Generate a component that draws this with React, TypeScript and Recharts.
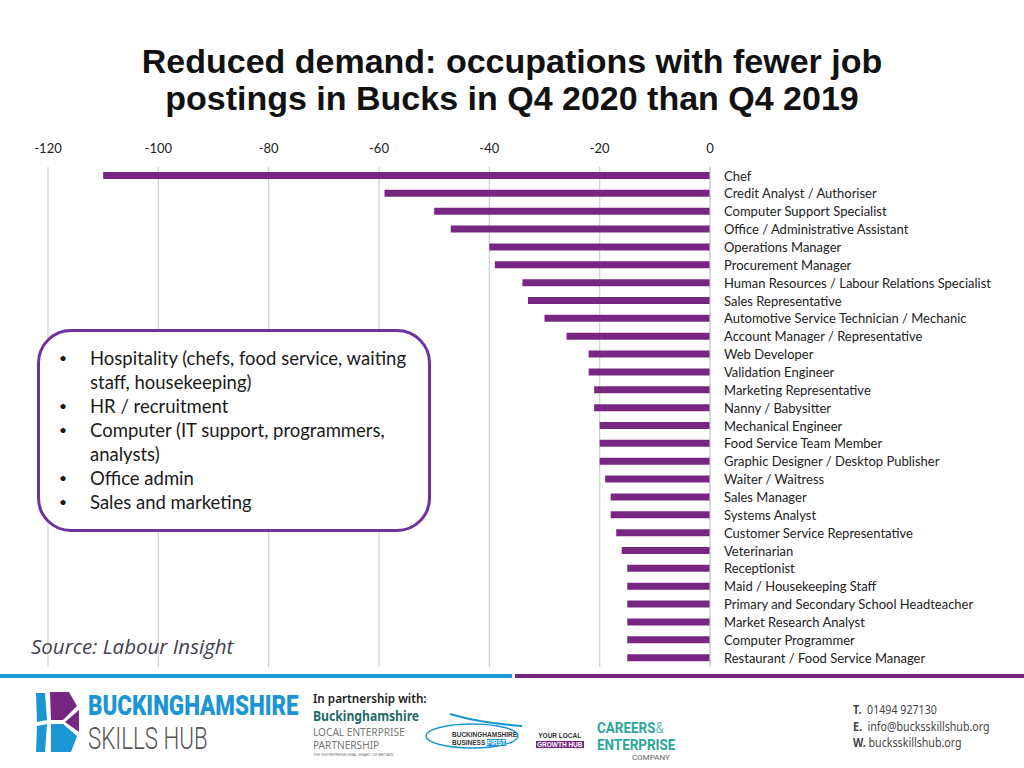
import React from "react";
import { BarChart, Bar, XAxis, YAxis, CartesianGrid } from "recharts";

const occupations = [
  "Chef",
  "Credit Analyst / Authoriser",
  "Computer Support Specialist",
  "Office / Administrative Assistant",
  "Operations Manager",
  "Procurement Manager",
  "Human Resources / Labour Relations Specialist",
  "Sales Representative",
  "Automotive Service Technician / Mechanic",
  "Account Manager / Representative",
  "Web Developer",
  "Validation Engineer",
  "Marketing Representative",
  "Nanny / Babysitter",
  "Mechanical Engineer",
  "Food Service Team Member",
  "Graphic Designer / Desktop Publisher",
  "Waiter / Waitress",
  "Sales Manager",
  "Systems Analyst",
  "Customer Service Representative",
  "Veterinarian",
  "Receptionist",
  "Maid / Housekeeping Staff",
  "Primary and Secondary School Headteacher",
  "Market Research Analyst",
  "Computer Programmer",
  "Restaurant / Food Service Manager",
];

const changeValues = [
  -110, -59, -50, -47, -40, -39, -34, -33, -30, -26, -22, -22, -21, -21, -20,
  -20, -20, -19, -18, -18, -17, -16, -15, -15, -15, -15, -15, -15,
];

const xTicks = [-120, -100, -80, -60, -40, -20, 0];

const bullets = [
  ["Hospitality (chefs, food service, waiting", "staff, housekeeping)"],
  ["HR / recruitment"],
  ["Computer (IT support, programmers,", "analysts)"],
  ["Office admin"],
  ["Sales and marketing"],
];

const data = occupations.map((name, i) => ({ name, value: changeValues[i] }));

const LABEL_FONT = "Lato, 'Open Sans', sans-serif";
const BAR_COLOR = "#772782";

const XTick = (props: any) => {
  const { x, payload } = props;
  return (
    <text x={x} y={153} textAnchor="middle" fontSize={13} fontFamily={LABEL_FONT} fill="#222">
      {payload.value}
    </text>
  );
};

const YTick = (props: any) => {
  const { y, payload } = props;
  return (
    <text x={724} y={y} dy="0.36em" textAnchor="start" fontSize={13} fontFamily={LABEL_FONT} fill="#222">
      {payload.value}
    </text>
  );
};

export default function App() {
  return (
    <div
      style={{
        position: "absolute",
        left: 0,
        top: 0,
        width: 1024,
        height: 768,
        background: "#fff",
        overflow: "hidden",
        fontFamily: LABEL_FONT,
      }}
    >
      <div
        style={{
          position: "absolute",
          left: 0,
          top: 43,
          width: 1024,
          textAlign: "center",
          fontFamily: "'Liberation Sans', Arial, sans-serif",
          fontWeight: 700,
          fontSize: 34,
          lineHeight: "37px",
          color: "#111",
        }}
      >
        Reduced demand: occupations with fewer job
        <br />
        postings in Bucks in Q4 2020 than Q4 2019
      </div>

      <div style={{ position: "absolute", left: 0, top: 0 }}>
        <BarChart
          width={1024}
          height={768}
          data={data}
          layout="vertical"
          margin={{ top: 147, right: 14, bottom: 101, left: 48 }}
        >
          <CartesianGrid vertical={true} horizontal={false} stroke="#cfcfd8" strokeWidth={1.2} />
          <XAxis
            type="number"
            orientation="top"
            domain={[-120, 0]}
            ticks={xTicks}
            axisLine={false}
            tickLine={false}
            height={20}
            tick={<XTick />}
            interval={0}
          />
          <YAxis
            type="category"
            dataKey="name"
            orientation="right"
            width={300}
            axisLine={{ stroke: "#cfcfd8" }}
            tickLine={false}
            interval={0}
            tick={<YTick />}
          />
          <Bar dataKey="value" fill={BAR_COLOR} barSize={7} isAnimationActive={false} />
        </BarChart>
      </div>

      {/* Bullet box */}
      <div
        style={{
          position: "absolute",
          left: 37,
          top: 329,
          width: 394,
          height: 203,
          border: "3px solid #7030a0",
          borderRadius: 34,
          background: "#fff",
          boxSizing: "border-box",
        }}
      />
      <div
        style={{
          position: "absolute",
          left: 55,
          top: 346,
          fontFamily: LABEL_FONT,
          fontSize: 18.5,
          lineHeight: "24px",
          color: "#1a1a1a",
        }}
      >
        {bullets.map((lines, i) => (
          <div key={i} style={{ position: "relative", paddingLeft: 35 }}>
            <span style={{ position: "absolute", left: 4, top: 0, fontSize: 14 }}>•</span>
            {lines.map((l, j) => (
              <div key={j}>{l}</div>
            ))}
          </div>
        ))}
      </div>

      <div
        style={{
          position: "absolute",
          left: 31,
          top: 632,
          fontFamily: "'Open Sans', sans-serif",
          fontStyle: "italic",
          fontSize: 20.5,
          color: "#3f3f4f",
        }}
      >
        Source: Labour Insight
      </div>

      {/* Footer lines */}
      <div style={{ position: "absolute", left: 0, top: 674, width: 512, height: 4, background: "#1b96d3" }} />
      <div style={{ position: "absolute", left: 515, top: 674, width: 509, height: 4, background: "#772782" }} />

      {/* Skills hub logo */}
      <svg style={{ position: "absolute", left: 33, top: 690 }} width={50} height={66}>
        <path d="M3 3 L12 3 L14 30 L4 32 Z" fill="#1b96d3" />
        <path d="M4 36 L14 34 L12 62 L3 62 Z" fill="#1b96d3" />
        <path d="M17 2 L36 2 L44 16 L30 30 L18 30 Z" fill="#772782" />
        <path d="M18 34 L30 34 L44 46 L38 62 L18 62 Z" fill="#1b96d3" />
        <path d="M32 32 L46 20 L46 42 Z" fill="#772782" />
      </svg>
      <div
        style={{
          position: "absolute",
          left: 88,
          top: 690,
          fontFamily: "'Roboto', sans-serif",
          fontWeight: 900,
          fontSize: 28,
          color: "#1b96d3",
          lineHeight: "32px",
          transform: "scaleX(0.8)",
          transformOrigin: "left top",
          whiteSpace: "nowrap",
        }}
      >
        BUCKINGHAMSHIRE
      </div>
      <div
        style={{
          position: "absolute",
          left: 88,
          top: 722,
          fontFamily: "'Roboto', sans-serif",
          fontWeight: 300,
          fontSize: 31,
          color: "#555",
          lineHeight: "34px",
          transform: "scaleX(0.72)",
          transformOrigin: "left top",
          whiteSpace: "nowrap",
        }}
      >
        SKILLS HUB
      </div>

      {/* Partnership */}
      <div style={{ position: "absolute", left: 313, top: 690, fontFamily: "'Noto Sans', sans-serif", fontSize: 13, lineHeight: "17px", fontWeight: 600, color: "#222", transform: "scaleX(0.9)", transformOrigin: "left top", whiteSpace: "nowrap" }}>
        In partnership with:
      </div>
      <div style={{ position: "absolute", left: 313, top: 708, fontFamily: "'Noto Sans', sans-serif", fontSize: 13.5, lineHeight: "17px", fontWeight: 700, color: "#1f6b67", transform: "scaleX(0.9)", transformOrigin: "left top", whiteSpace: "nowrap" }}>
        Buckinghamshire
      </div>
      <div style={{ position: "absolute", left: 313, top: 725, fontFamily: "'Noto Sans', sans-serif", fontSize: 11.5, color: "#777", lineHeight: "13px", transform: "scaleX(0.88)", transformOrigin: "left top", whiteSpace: "nowrap" }}>
        <div>LOCAL ENTERPRISE</div>
        <div>PARTNERSHIP</div>
      </div>
      <div style={{ position: "absolute", left: 313, top: 752, fontFamily: "'Noto Sans', sans-serif", fontSize: 4, lineHeight: "5px", color: "#777", whiteSpace: "nowrap" }}>
        THE ENTREPRENEURIAL HEART OF BRITAIN
      </div>

      {/* Business first */}
      <svg style={{ position: "absolute", left: 420, top: 712 }} width={105} height={40}>
        <path d="M30 2 C 50 8, 75 12, 102 14" stroke="#1b96d3" strokeWidth={2} fill="none" />
        <ellipse cx={52} cy={24} rx={46} ry={12} stroke="#1b96d3" strokeWidth={1.5} fill="none" />
      </svg>
      <div style={{ position: "absolute", left: 452, top: 731, fontFamily: "'Liberation Sans', sans-serif", fontSize: 6.5, fontWeight: 700, color: "#333", lineHeight: "8px", whiteSpace: "nowrap" }}>
        <div>BUCKINGHAMSHIRE</div>
        <div>BUSINESS <span style={{ background: "#1b96d3", color: "#fff" }}>FIRST</span></div>
      </div>

      {/* Growth hub */}
      <div style={{ position: "absolute", left: 536, top: 731, fontFamily: "'Liberation Sans', sans-serif", fontSize: 6.5, fontWeight: 700, color: "#333", lineHeight: "9px", textAlign: "center", whiteSpace: "nowrap" }}>
        <div>YOUR LOCAL</div>
        <div><span style={{ background: "#772782", color: "#fff", padding: "0 1px" }}>GROWTH HUB</span></div>
      </div>

      {/* Careers & Enterprise */}
      <div style={{ position: "absolute", left: 597, top: 720, fontFamily: "'Roboto', sans-serif", fontWeight: 700, fontSize: 14, color: "#2aa79b", lineHeight: "16.5px", transform: "scaleX(0.96)", transformOrigin: "left top", whiteSpace: "nowrap" }}>
        <div>CAREERS<span style={{ fontWeight: 300 }}>&amp;</span></div>
        <div>ENTERPRISE</div>
      </div>
      <div style={{ position: "absolute", left: 632, top: 753, fontFamily: "'Roboto', sans-serif", fontSize: 8, lineHeight: "9px", color: "#666", whiteSpace: "nowrap" }}>
        COMPANY
      </div>

      {/* Contact */}
      <div style={{ position: "absolute", left: 853, top: 701, fontFamily: "'Noto Sans', sans-serif", fontSize: 13, color: "#444", lineHeight: "16.5px", transform: "scaleX(0.82)", transformOrigin: "left top", whiteSpace: "nowrap" }}>
        <div><b>T.</b>&nbsp; 01494 927130</div>
        <div><b>E.</b>&nbsp; info@bucksskillshub.org</div>
        <div><b>W.</b> bucksskillshub.org</div>
      </div>
    </div>
  );
}
